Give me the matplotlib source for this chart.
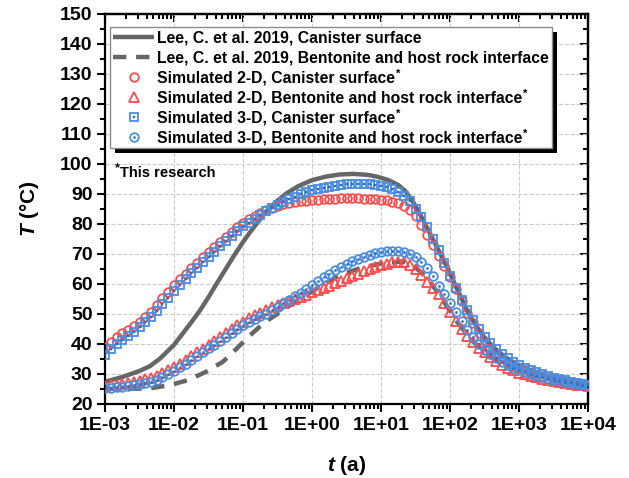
import numpy as np
import matplotlib
matplotlib.use('Agg')
import matplotlib.pyplot as plt
from matplotlib.legend_handler import HandlerTuple
from matplotlib.patches import Rectangle
from matplotlib.ticker import LogLocator, NullFormatter, MultipleLocator, FixedLocator, FixedFormatter
from matplotlib.transforms import IdentityTransform

plt.rcParams['font.family'] = ['Liberation Sans', 'DejaVu Sans']
plt.rcParams['font.weight'] = 'bold'
plt.rcParams['mathtext.fontset'] = 'custom'
plt.rcParams['mathtext.rm'] = 'Liberation Sans:bold'
plt.rcParams['mathtext.it'] = 'Liberation Sans:italic:bold'
plt.rcParams['mathtext.bf'] = 'Liberation Sans:bold'

# ---------------- data ----------------
# simulated time grid (a), 12 points per decade from 1E-03 to 1E+04
t_sim = np.logspace(-3, 4, 85)

sim2d_canister = [39.0, 40.7, 42.4, 43.6, 44.8, 46.0, 47.5, 49.0, 50.8, 53.0, 55.3, 57.5, 59.6,
                  61.6, 63.5, 65.4, 67.1, 68.9, 70.6, 72.3, 74.0, 75.8, 77.5, 79.0, 80.5,
                  81.7, 82.8, 83.8, 84.7, 85.4, 86.0, 86.6, 87.0, 87.3, 87.6, 87.8, 88.0,
                  88.1, 88.3, 88.4, 88.5, 88.6, 88.6, 88.6, 88.6, 88.5, 88.4, 88.3, 88.1,
                  87.9, 87.5, 86.9, 86.0, 84.8, 82.8, 79.6, 76.2, 72.9, 69.4, 65.9, 62.3,
                  58.2, 54.2, 50.4, 46.9, 43.8, 41.1, 38.8, 36.9, 35.4, 34.1, 33.0, 32.0,
                  31.2, 30.5, 29.8, 29.3, 28.8, 28.4, 28.0, 27.6, 27.3, 27.0, 26.7, 26.4]

sim2d_bentonite = [26.0, 26.2, 26.4, 26.7, 27.0, 27.4, 27.8, 28.3, 28.8, 29.5, 30.3, 31.2, 32.2,
                   33.4, 34.6, 35.9, 37.2, 38.5, 39.8, 41.1, 42.4, 43.7, 45.0, 46.3, 47.5,
                   48.6, 49.6, 50.5, 51.4, 52.2, 53.0, 53.7, 54.4, 55.1, 55.8, 56.5, 57.2,
                   57.9, 58.7, 59.5, 60.3, 61.1, 61.9, 62.7, 63.5, 64.3, 65.0, 65.7, 66.3,
                   66.8, 67.2, 67.4, 67.2, 66.4, 65.0, 63.0, 60.8, 58.7, 56.6, 53.8, 50.8,
                   47.6, 45.0, 42.6, 40.6, 38.8, 37.2, 35.6, 34.2, 33.0, 32.0, 31.2, 30.5,
                   29.9, 29.4, 28.9, 28.5, 28.1, 27.7, 27.3, 27.0, 26.7, 26.4, 26.2, 26.0]

sim3d_canister = [36.5, 38.3, 40.0, 41.5, 42.8, 44.1, 45.6, 47.2, 48.9, 51.0, 53.2, 55.4, 57.6,
                  59.7, 61.7, 63.6, 65.4, 67.2, 69.0, 70.8, 72.6, 74.4, 76.1, 77.7, 79.2,
                  80.5, 81.8, 83.0, 84.2, 85.3, 86.4, 87.4, 88.3, 89.1, 89.9, 90.6, 91.2,
                  91.7, 92.1, 92.5, 92.8, 93.0, 93.2, 93.3, 93.4, 93.4, 93.3, 93.1, 92.8,
                  92.3, 91.6, 90.7, 89.5, 87.6, 85.0, 82.3, 79.0, 75.0, 71.2, 66.9, 62.8,
                  58.8, 54.8, 51.2, 48.0, 45.0, 42.5, 40.3, 38.4, 36.7, 35.3, 34.1, 33.0,
                  32.1, 31.3, 30.6, 29.9, 29.3, 28.8, 28.3, 27.9, 27.5, 27.1, 26.8, 26.5]

sim3d_bentonite = [25.2, 25.4, 25.6, 25.8, 26.0, 26.3, 26.7, 27.1, 27.5, 28.1, 28.9, 29.9, 31.0,
                   32.2, 33.4, 34.7, 36.0, 37.3, 38.6, 39.8, 41.0, 42.3, 43.6, 44.9, 46.2,
                   47.3, 48.3, 49.2, 50.1, 51.2, 52.4, 53.6, 54.8, 56.0, 57.1, 58.4, 59.7,
                   61.0, 62.3, 63.5, 64.6, 65.7, 66.7, 67.6, 68.4, 69.1, 69.7, 70.2, 70.6,
                   70.9, 71.1, 71.1, 70.8, 70.0, 68.9, 67.4, 65.4, 62.6, 59.5, 56.6, 53.8,
                   50.6, 47.6, 44.8, 42.2, 40.0, 38.1, 36.6, 35.2, 34.0, 33.0, 32.1, 31.3,
                   30.6, 30.0, 29.4, 28.9, 28.4, 28.0, 27.6, 27.3, 27.0, 26.7, 26.5, 26.3]

# Lee, C. et al. 2019 (log10 of time in a, temperature in degC)
lee_can_logt = [-3.0, -2.75, -2.5, -2.35, -2.2, -2.0, -1.87, -1.75, -1.62, -1.5, -1.38, -1.25,
                -1.14, -1.0, -0.9, -0.8, -0.66, -0.5, -0.37, -0.2, 0.0, 0.2, 0.4, 0.6, 0.8,
                0.94, 1.1, 1.25, 1.35, 1.45, 1.55, 1.65, 1.75, 1.85, 1.95, 2.05, 2.15, 2.25,
                2.35, 2.5, 2.65, 2.8, 3.0, 3.25, 3.5, 3.75, 4.0]
lee_can_T = [27.4, 29.0, 31.0, 32.6, 35.2, 39.7, 43.6, 47.2, 51.3, 55.6, 60.2, 65.0,
             69.1, 74.0, 77.2, 80.2, 84.2, 87.8, 90.2, 92.6, 94.6, 95.8, 96.5, 96.7, 96.4,
             95.8, 94.7, 93.0, 91.0, 88.0, 84.0, 79.5, 75.0, 70.5, 66.0, 61.0, 56.0, 51.0,
             47.0, 42.0, 38.5, 35.6, 32.8, 30.4, 28.6, 27.3, 26.4]

lee_ben_logt = [-3.0, -2.7, -2.35, -2.06, -1.79, -1.53, -1.29, -1.09, -0.92, -0.7, -0.42, -0.17,
                0.0, 0.2, 0.41, 0.7, 1.0, 1.3, 1.45, 1.6, 1.75, 1.9, 2.0, 2.1, 2.25, 2.4,
                2.6, 2.8, 3.0, 3.25, 3.5, 3.75, 4.0]
lee_ben_T = [25.0, 25.0, 25.2, 26.3, 28.0, 30.8, 34.1, 38.5, 42.4, 47.0, 51.3, 55.2,
             57.5, 60.3, 63.0, 65.3, 66.8, 67.5, 66.5, 63.5, 59.5, 54.5, 51.0, 47.5, 43.0, 39.3,
             35.5, 33.0, 31.0, 29.3, 28.0, 27.0, 26.2]

xtick_vals = [1e-3, 1e-2, 1e-1, 1e0, 1e1, 1e2, 1e3, 1e4]
xtick_labels = ['1E-03', '1E-02', '1E-01', '1E+00', '1E+01', '1E+02', '1E+03', '1E+04']
ytick_vals = [20, 30, 40, 50, 60, 70, 80, 90, 100, 110, 120, 130, 140, 150]

labels = ['Lee, C. et al. 2019, Canister surface',
          'Lee, C. et al. 2019, Bentonite and host rock interface',
          'Simulated 2-D, Canister surface',
          'Simulated 2-D, Bentonite and host rock interface',
          'Simulated 3-D, Canister surface',
          'Simulated 3-D, Bentonite and host rock interface']
starred = [False, False, True, True, True, True]

# ---------------- styles ----------------
GRAY = '#666666'
RED = '#ff4a4a'
BLUE = '#4a8ee0'
BLUE_D = '#2f6bbf'

fig = plt.figure(figsize=(6.29, 4.78), dpi=100)
ax = fig.add_axes([105/629, 1-404/478, (588-105)/629, (404-14)/478])
ax.set_xscale('log')

l1, = ax.plot(10**np.array(lee_can_logt), lee_can_T, color=GRAY, lw=3.2, zorder=2,
              solid_capstyle='butt')
l2, = ax.plot(10**np.array(lee_ben_logt), lee_ben_T, color=GRAY, lw=3.2, zorder=2,
              dashes=(3.0, 2.2))

ms = 6.2
mew = 1.3
p1, = ax.plot(t_sim, sim2d_canister, ls='none', marker='o', ms=ms, mfc='none',
              mec=RED, mew=mew, zorder=3)
p2, = ax.plot(t_sim, sim2d_bentonite, ls='none', marker='^', ms=ms+0.5, mfc='none',
              mec=RED, mew=mew, zorder=3)
p3, = ax.plot(t_sim, sim3d_canister, ls='none', marker='s', ms=ms-0.6, mfc='none',
              mec=BLUE, mew=mew, zorder=4)
p3d, = ax.plot(t_sim, sim3d_canister, ls='none', marker='s', ms=1.6, mfc=BLUE_D,
               mec=BLUE_D, mew=0.3, zorder=4)
p4, = ax.plot(t_sim, sim3d_bentonite, ls='none', marker='o', ms=ms, mfc='none',
              mec=BLUE, mew=mew, zorder=4)
p4d, = ax.plot(t_sim, sim3d_bentonite, ls='none', marker='o', ms=1.6, mfc=BLUE_D,
               mec=BLUE_D, mew=0.3, zorder=4)

ax.set_xlim(1e-3, 1e4)
ax.set_ylim(20, 150)

ax.xaxis.set_major_locator(FixedLocator(xtick_vals))
ax.xaxis.set_major_formatter(FixedFormatter(xtick_labels))
ax.xaxis.set_minor_locator(LogLocator(base=10, subs=np.arange(2, 10), numticks=100))
ax.xaxis.set_minor_formatter(NullFormatter())
ax.yaxis.set_major_locator(FixedLocator(ytick_vals))
ax.yaxis.set_minor_locator(MultipleLocator(5))

ax.tick_params(which='both', direction='out', top=False, right=False, width=1.5,
               labelsize=14, pad=3)
ax.tick_params(which='major', length=6)
ax.tick_params(which='minor', length=3.5)
for lab in ax.get_xticklabels() + ax.get_yticklabels():
    lab.set_fontweight('bold')
for sp in ax.spines.values():
    sp.set_linewidth(1.6)

ax.grid(True, which='major', color='#cccccc', ls='--', lw=0.8)
ax.set_axisbelow(True)

secx = ax.secondary_xaxis('top')
secx.xaxis.set_major_locator(FixedLocator(xtick_vals))
secx.xaxis.set_minor_locator(LogLocator(base=10, subs=np.arange(2, 10), numticks=100))
secx.tick_params(which='both', direction='in', labeltop=False, width=1.5)
secx.tick_params(which='major', length=6)
secx.tick_params(which='minor', length=3.5)
secx.spines['top'].set_linewidth(1.6)
secy = ax.secondary_yaxis('right')
secy.yaxis.set_major_locator(FixedLocator(ytick_vals))
secy.yaxis.set_minor_locator(MultipleLocator(5))
secy.tick_params(which='both', direction='in', labelright=False, width=1.5)
secy.tick_params(which='major', length=6)
secy.tick_params(which='minor', length=3.5)
secy.spines['right'].set_linewidth(1.6)

ax.set_xlabel(r'$\mathit{t}$ (a)', fontsize=15, fontweight='bold', labelpad=15)
ax.set_ylabel(r'$\mathit{T}$ (°C)', fontsize=15, fontweight='bold', labelpad=14)

leg = ax.legend([l1, l2, p1, p2, (p3, p3d), (p4, p4d)], labels,
                handler_map={tuple: HandlerTuple(ndivide=1, pad=0)},
                loc='upper left', bbox_to_anchor=(5/483, 1-13/390),
                prop={'size': 11.3, 'weight': 'bold'},
                frameon=True, fancybox=False, framealpha=1, edgecolor='#8c8c8c',
                borderpad=0.2, labelspacing=0.32, handlelength=2.6,
                handletextpad=0.2, borderaxespad=0.0, numpoints=1)
leg.get_frame().set_linewidth(1.0)
leg.set_zorder(6)

rt = ax.text((120-105)/483, 0.592, 'This research', transform=ax.transAxes,
             fontsize=10.5, fontweight='bold', va='center', ha='left')

fig.canvas.draw()
bb = leg.get_frame().get_window_extent()
shadow = Rectangle((bb.x0 + 5, bb.y0 - 5), bb.width, bb.height, transform=IdentityTransform(),
                   facecolor='black', edgecolor='none', zorder=5.9, clip_on=False)
ax.add_artist(shadow)

# superscript asterisks
for txt, st in zip(leg.get_texts(), starred):
    if st:
        e = txt.get_window_extent()
        ax.text(e.x1 + 0.5, e.y1 + 1, '*', transform=IdentityTransform(), fontsize=8,
                fontweight='bold', va='top', ha='left', zorder=7)
e = rt.get_window_extent()
ax.text(e.x0 - 5, e.y1 + 4, '*', transform=IdentityTransform(), fontsize=9,
        fontweight='bold', va='top', ha='left', zorder=7)

fig.savefig('out.png', dpi=100)
